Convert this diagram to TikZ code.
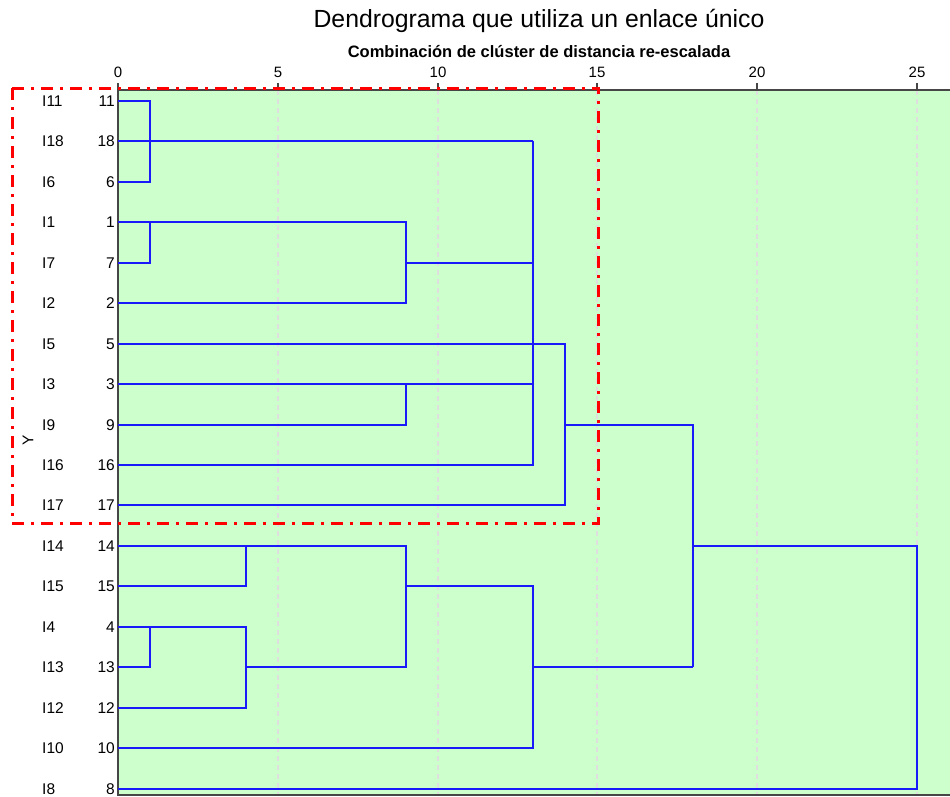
\documentclass[tikz,border=0pt]{standalone}
\usepackage{fontspec}
\setmainfont{Liberation Sans}
\usetikzlibrary{positioning}
\definecolor{fondo}{RGB}{204,255,204}
\definecolor{enlace}{RGB}{25,25,250}
\definecolor{marco}{RGB}{255,0,0}
\definecolor{eje}{RGB}{70,70,70}

\begin{document}
\begin{tikzpicture}[x=1pt,y=-1pt,
        declare function={X(\u)=round(118+31.96*\u); Y(\r)=round(101+40.45*\r);},
        rama/.style={draw=enlace,line width=2pt},
        rejilla/.style={draw=gray!25,dash pattern=on 5pt off 4pt,line width=2pt},
        etiq/.style={font=\fontsize{15.5}{18}\selectfont,inner sep=0pt},
        marca/.style={font=\fontsize{15}{18}\selectfont,inner sep=0pt}]
  \useasboundingbox (0,0) rectangle (950,796);
  % zona del grafico
  \fill[fondo] (118,90) rectangle (950,796);
  \foreach \v in {5,10,...,25}
    \draw[rejilla] ({X(\v)},90) -- ({X(\v)},796);
  \draw[eje,line width=2pt] (950,90) -- (118,90) -- (118,795) -- (950,795);
  \foreach \v in {0,5,...,25} {
    \draw[eje,line width=2pt] ({X(\v)},83) -- ({X(\v)},90);
    \node[marca,anchor=base] (t\v) at ({X(\v)},77) {\v};
  }
  % titulos
  \node[font=\fontsize{24.8}{28}\selectfont,inner sep=0pt] (titulo) at (539,21) {Dendrograma que utiliza un enlace único};
  \node[font=\fontsize{16.5}{19}\selectfont\bfseries,inner sep=0pt,below=12pt of titulo] (sub) {Combinación de clúster de distancia re-escalada};
  \node[etiq,rotate=90] (ejey) at (28,440) {Y};
  % etiquetas de casos
  \foreach \n [count=\i from 0] in {11,18,6,1,7,2,5,3,9,16,17,14,15,4,13,12,10,8} {
    \node[etiq,anchor=west] (c\n) at (42,{Y(\i)}) {I\n};
    \node[etiq,anchor=east] (n\n) at (115,{Y(\i)}) {\n};
  }
  % arbol (X: distancia, Y: fila)
  \draw[rama] ({X(0)},{Y(0)}) -- ({X(1)},{Y(0)}) -- ({X(1)},{Y(2)}) -- ({X(0)},{Y(2)});
  \draw[rama] ({X(0)},{Y(1)}) -- ({X(13)},{Y(1)});
  \draw[rama] ({X(0)},{Y(3)}) -- ({X(9)},{Y(3)}) -- ({X(9)},{Y(5)}) -- ({X(0)},{Y(5)});
  \draw[rama] ({X(1)},{Y(3)}) -- ({X(1)},{Y(4)}) -- ({X(0)},{Y(4)});
  \draw[rama] ({X(9)},{Y(4)}) -- ({X(13)},{Y(4)});
  \draw[rama] ({X(0)},{Y(6)}) -- ({X(14)},{Y(6)}) -- ({X(14)},{Y(10)}) -- ({X(0)},{Y(10)});
  \draw[rama] ({X(0)},{Y(7)}) -- ({X(13)},{Y(7)});
  \draw[rama] ({X(9)},{Y(7)}) -- ({X(9)},{Y(8)}) -- ({X(0)},{Y(8)});
  \draw[rama] ({X(13)},{Y(1)}) -- ({X(13)},{Y(9)}) -- ({X(0)},{Y(9)});
  \draw[rama] ({X(14)},{Y(8)}) -- ({X(18)},{Y(8)}) -- ({X(18)},{Y(14)});
  \draw[rama] ({X(0)},{Y(11)}) -- ({X(9)},{Y(11)}) -- ({X(9)},{Y(14)}) -- ({X(4)},{Y(14)});
  \draw[rama] ({X(4)},{Y(11)}) -- ({X(4)},{Y(12)}) -- ({X(0)},{Y(12)});
  \draw[rama] ({X(0)},{Y(13)}) -- ({X(4)},{Y(13)}) -- ({X(4)},{Y(15)}) -- ({X(0)},{Y(15)});
  \draw[rama] ({X(1)},{Y(13)}) -- ({X(1)},{Y(14)}) -- ({X(0)},{Y(14)});
  \draw[rama] ({X(9)},{Y(12)}) -- ({X(13)},{Y(12)}) -- ({X(13)},{Y(16)}) -- ({X(0)},{Y(16)});
  \draw[rama] ({X(13)},{Y(14)}) -- ({X(18)},{Y(14)});
  \draw[rama] ({X(18)},{Y(11)}) -- ({X(25)},{Y(11)}) -- ({X(25)},{Y(17)}) -- ({X(0)},{Y(17)});
  % seleccion
  \draw[marco,line width=3pt,dash pattern=on 12pt off 7pt on 3pt off 7pt]
    (12,88) rectangle (598,523);
\end{tikzpicture}
\end{document}
